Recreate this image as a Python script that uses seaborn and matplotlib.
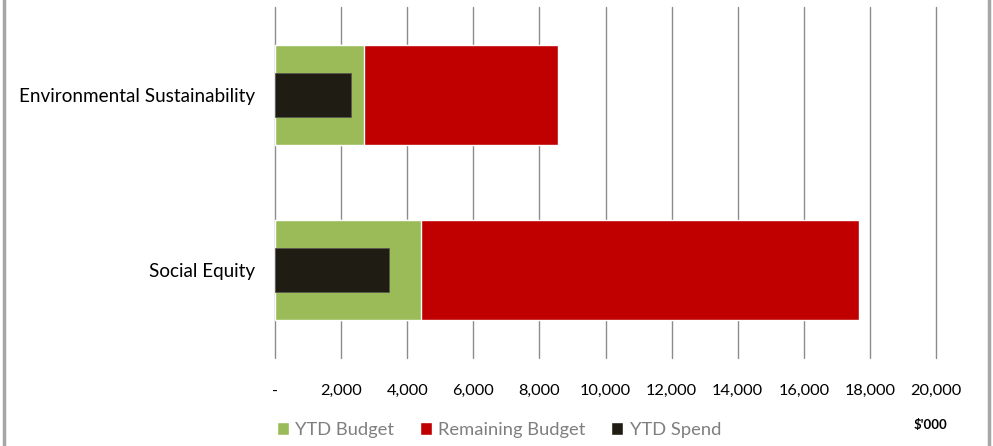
import matplotlib
matplotlib.use("Agg")
import matplotlib.pyplot as plt
from matplotlib.patches import Patch
from matplotlib.lines import Line2D
from matplotlib.ticker import FuncFormatter
import seaborn as sns
import pandas as pd

categories = ["Environmental Sustainability", "Social Equity"]
ytd_budget = [2700, 4420]
remaining_budget = [5870, 13250]
ytd_spend = [2310, 3460]
x_ticks = [0, 2000, 4000, 6000, 8000, 10000, 12000, 14000, 16000, 18000, 20000]

sns.set_theme(style="white")
plt.rcParams["font.family"] = ["Lato", "DejaVu Sans"]

df = pd.DataFrame({
    "category": categories,
    "ytd_budget": ytd_budget,
    "total": [b + r for b, r in zip(ytd_budget, remaining_budget)],
    "ytd_spend": ytd_spend,
})

fig = plt.figure(figsize=(9.93, 4.46), dpi=100)
ax = fig.add_axes([275 / 993, 1 - 358 / 446, (936 - 275) / 993, (358 - 7) / 446])

green = "#9BBB59"
red = "#C00000"
black = "#1F1D13"

sns.barplot(data=df, y="category", x="total", color=red, width=0.57,
            saturation=1, ax=ax, orient="h")
sns.barplot(data=df, y="category", x="ytd_budget", color=green, width=0.57,
            saturation=1, ax=ax, orient="h")
sns.barplot(data=df, y="category", x="ytd_spend", color=black, width=0.25,
            saturation=1, ax=ax, orient="h", edgecolor="#5a5a50", linewidth=0.6)

ax.set_xlim(0, 20000)
ax.set_ylim(1.5, -0.5)
ax.set_xticks(x_ticks)
ax.xaxis.set_major_formatter(FuncFormatter(lambda v, p: "-" if v == 0 else f"{int(v):,}"))
ax.grid(axis="x", color="#8c8c8c", linewidth=1.0)
ax.grid(axis="y", visible=False)
for gl in ax.get_xgridlines():
    gl.set_clip_on(False)
ax.set_axisbelow(True)
for s in ax.spines.values():
    s.set_visible(False)
ax.set_xlabel("")
ax.set_ylabel("")
ax.tick_params(axis="x", labelsize=11.8, colors="black", length=0, pad=19)
ax.tick_params(axis="y", labelsize=13.6, colors="black", length=0, pad=14.4)

handles = [Patch(facecolor=green, label="YTD Budget"),
           Patch(facecolor=red, label="Remaining Budget"),
           Patch(facecolor=black, label="YTD Spend")]
leg = fig.legend(handles=handles, loc="center", ncol=3,
                 bbox_to_anchor=(499 / 993, 1 - 430 / 446), frameon=False,
                 fontsize=13.2, handlelength=0.65, handleheight=0.65,
                 handletextpad=0.35, columnspacing=1.4)
for t in leg.get_texts():
    t.set_color("#7f7f7f")

fig.text(930 / 993, 1 - 425 / 446, "$'000", ha="center", va="center",
         fontsize=9.5, fontweight="bold", color="black")

fig.add_artist(Line2D([3.5 / 993, 3.5 / 993], [0, 1], color="#a6a6a6", linewidth=2.5,
                      transform=fig.transFigure))
fig.add_artist(Line2D([988.5 / 993, 988.5 / 993], [0, 1], color="#a6a6a6", linewidth=2.5,
                      transform=fig.transFigure))

fig.savefig("out.png", dpi=100)
